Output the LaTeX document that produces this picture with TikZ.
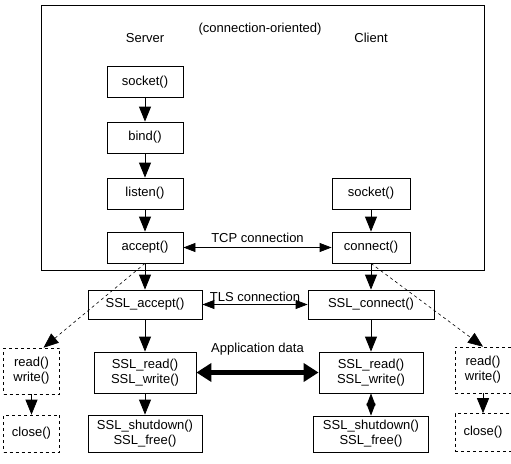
\documentclass[tikz,border=0pt]{standalone}
\usepackage{fontspec}
\setmainfont{Liberation Sans}
\usetikzlibrary{arrows.meta}

\begin{document}
\begin{tikzpicture}[x=1pt,y=-1pt,font=\fontsize{13}{15}\selectfont,
    flow/.style={-{Triangle[length=15pt,width=12pt]},line width=0.8pt},
    both/.style={{Triangle[length=12pt,width=9pt]}-{Triangle[length=12pt,width=9pt]},line width=0.8pt},
    link/.style={-{Triangle[length=15pt,width=12pt]},line width=0.6pt,dashed},
    data/.style={{Triangle[length=15pt,width=18pt]}-{Triangle[length=15pt,width=18pt]},line width=5pt}]
\useasboundingbox (0,0) rectangle (511,463);

\draw[line width=0.8pt] (41,5) rectangle (484,270);
\node (title) at (260,29){(connection-oriented)};
\node (srv) at (145,38){Server};
\node (cli) at (371,38){Client};

\begin{scope}[every node/.style={draw,line width=0.8pt,align=center,inner sep=0pt,minimum height=31pt}]
    \node[minimum width=76pt] (ssock) at (145,82){socket()};
    \node[minimum width=76pt] (sbind) at (145,137.5){bind()};
    \node[minimum width=76pt] (slisten) at (145,193.5){listen()};
    \node[minimum width=76pt] (sacc) at (145,247.5){accept()};
    \node[minimum width=78pt] (csock) at (371,193.5){socket()};
    \node[minimum width=78pt] (cconn) at (371,247.5){connect()};
    \node[minimum width=114pt,minimum height=29pt] (sslacc) at (145,304.5){SSL\_accept()};
    \node[minimum width=126pt,minimum height=29pt] (sslconn) at (371,304.5){SSL\_connect()};
    \node[minimum width=102pt,minimum height=41pt] (srw) at (145,372.5){SSL\_read()\\SSL\_write()};
    \node[minimum width=104pt,minimum height=41pt] (crw) at (371,372.5){SSL\_read()\\SSL\_write()};
    \node[minimum width=114pt,minimum height=37pt] (sshut) at (145,433.5){SSL\_shutdown()\\SSL\_free()};
    \node[minimum width=115pt,minimum height=36pt] (cshut) at (371,434){SSL\_shutdown()\\SSL\_free()};
\end{scope}

\begin{scope}[every node/.style={draw,dashed,line width=0.6pt,align=center,inner sep=0pt,minimum width=56pt}]
    \node[minimum height=46pt] (lrw) at (31.5,371){read()\\write()};
    \node[minimum height=37pt] (lclose) at (31.5,433.5){close()};
    \node[minimum height=46pt] (rrw) at (483,370){read()\\write()};
    \node[minimum height=38pt] (rclose) at (483,432.5){close()};
\end{scope}

    \draw[flow] (ssock) -- (sbind);
    \draw[flow] (sbind) -- (slisten);
    \draw[flow] (slisten) -- (sacc);
    \draw[flow] (csock) -- (cconn);
    \draw[flow] (sacc) -- (sslacc);
    \draw[flow] (cconn) -- (sslconn);
    \draw[flow] (sslacc) -- (srw);
    \draw[flow] (sslconn) -- (crw);
    \draw[flow] (srw) -- (sshut);
    \draw[both] (crw) -- (cshut);

    \draw[both] (sacc) -- node[above=1pt]{TCP connection} (cconn);
    \draw[both] (sslacc) -- node[above=-1pt]{TLS connection} (sslconn);
    \draw[data] (srw) -- node[above=11pt]{Application data} (crw);

    \draw[link] (sacc.south) -- ([xshift=12pt]lrw.north);
    \draw[link] (cconn.south) -- (rrw.north);
    \draw[flow] (lrw) -- (lclose);
    \draw[flow] (rrw) -- (rclose);

\end{tikzpicture}
\end{document}
